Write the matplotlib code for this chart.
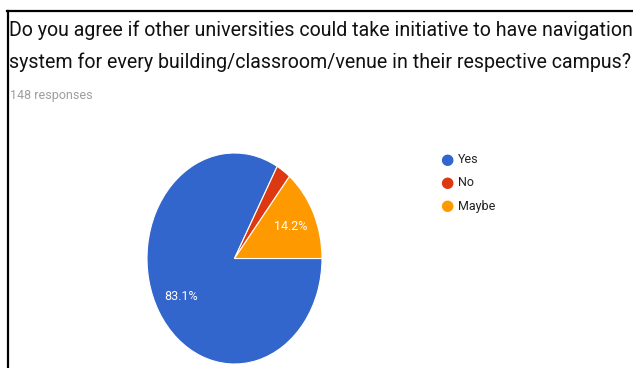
import matplotlib.pyplot as plt
from matplotlib.lines import Line2D

# survey answers (148 responses)
answers = ["Yes", "No", "Maybe"]
counts = [123, 4, 21]
colors = ["#3366cc", "#dc3912", "#ff9900"]
question = ["Do you agree if other universities could take initiative to have navigation",
            "system for every building/classroom/venue in their respective campus?"]
n_responses = "148 responses"

plt.rcParams['font.family'] = ['Roboto', 'DejaVu Sans']

W, H = 633, 368
fig = plt.figure(figsize=(W / 100, H / 100), dpi=100)
fig.patch.set_facecolor("white")

# frame lines at top and left
fig.add_artist(Line2D([7.5 / W, 1], [1 - 11 / H, 1 - 11 / H], color="black", lw=1.6,
                      transform=fig.transFigure))
fig.add_artist(Line2D([8 / W, 8 / W], [0, 1 - 11 / H], color="black", lw=1.6,
                      transform=fig.transFigure))

# question, one text per line
for line, base in zip(question, [36, 68]):
    fig.text(9 / W, 1 - base / H, line, fontsize=14.15, color="#111111",
             va="baseline", ha="left")
fig.text(10 / W, 1 - 96 / H, n_responses, fontsize=9, color="#9e9e9e",
         va="center", ha="left")


def pct_label(p):
    return f"{p:.1f}%" if p > 5 else ""


# pie area (slightly taller than wide)
ax = fig.add_axes([147 / W, 1 - 364 / H, 175 / W, 211 / H])
wedges, texts, autotexts = ax.pie(counts, colors=colors, startangle=0, counterclock=False,
                                  autopct=pct_label, pctdistance=0.71,
                                  wedgeprops=dict(edgecolor="white", linewidth=0.8),
                                  textprops=dict(color="white", fontsize=9))
ax.set_aspect("auto")
ax.set_xlim(-1, 1)
ax.set_ylim(-1, 1)
ax.axis("off")

# legend
for i, (name, c) in enumerate(zip(answers, colors)):
    y = 1 - (160 + 23 * i) / H
    fig.text(447 / W, y, "\u25cf", color=c, fontsize=11, ha="center", va="center")
    fig.text(458 / W, y, name, color="#222222", fontsize=9, ha="left", va="center")

fig.savefig("out.png", dpi=100, facecolor="white")
